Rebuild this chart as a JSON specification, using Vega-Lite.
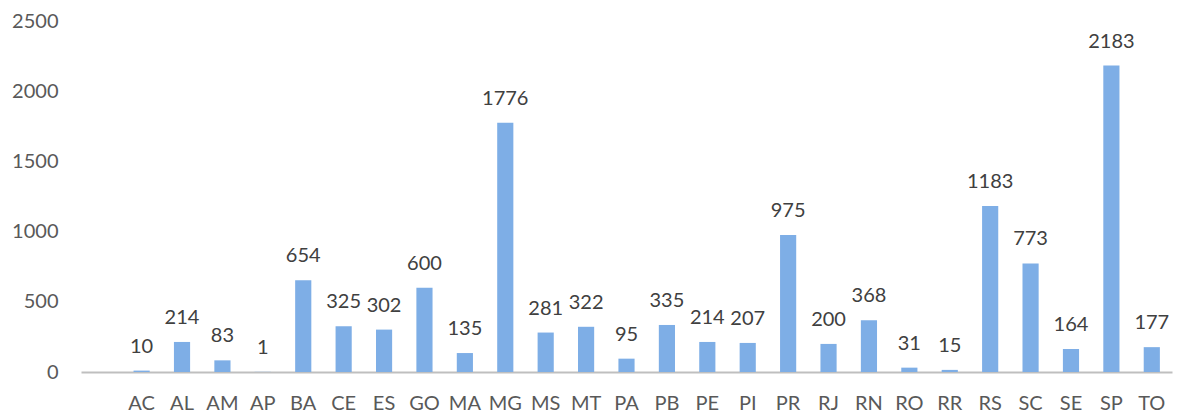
{
  "$schema": "https://vega.github.io/schema/vega-lite/v6.json",
  "autosize": {"type": "none"},
  "padding": {"left": 81, "top": 21, "right": 9, "bottom": 42},
  "width": 1091,
  "height": 351,
  "background": "white",
  "config": {"view": {"stroke": null}, "font": "Lato"},
  "data": {
    "values": [
      {"uf": "AC", "n": 10}, {"uf": "AL", "n": 214}, {"uf": "AM", "n": 83},
      {"uf": "AP", "n": 1}, {"uf": "BA", "n": 654}, {"uf": "CE", "n": 325},
      {"uf": "ES", "n": 302}, {"uf": "GO", "n": 600}, {"uf": "MA", "n": 135},
      {"uf": "MG", "n": 1776}, {"uf": "MS", "n": 281}, {"uf": "MT", "n": 322},
      {"uf": "PA", "n": 95}, {"uf": "PB", "n": 335}, {"uf": "PE", "n": 214},
      {"uf": "PI", "n": 207}, {"uf": "PR", "n": 975}, {"uf": "RJ", "n": 200},
      {"uf": "RN", "n": 368}, {"uf": "RO", "n": 31}, {"uf": "RR", "n": 15},
      {"uf": "RS", "n": 1183}, {"uf": "SC", "n": 773}, {"uf": "SE", "n": 164},
      {"uf": "SP", "n": 2183}, {"uf": "TO", "n": 177}
    ]
  },
  "encoding": {
    "x": {
      "field": "uf", "type": "nominal", "sort": null,
      "scale": {
        "domain": [" ", "AC", "AL", "AM", "AP", "BA", "CE", "ES", "GO", "MA", "MG", "MS", "MT", "PA", "PB", "PE", "PI", "PR", "RJ", "RN", "RO", "RR", "RS", "SC", "SE", "SP", "TO"],
        "paddingInner": 0.6, "paddingOuter": 0.3
      },
      "axis": {
        "title": null, "labelAngle": 0, "ticks": false,
        "domainColor": "#bfbfbf", "domainWidth": 2,
        "labelFontSize": 20, "labelColor": "#595959", "labelPadding": 21,
        "labelFont": "Lato"
      }
    },
    "y": {
      "field": "n", "type": "quantitative",
      "scale": {"domain": [0, 2500], "nice": false},
      "axis": {
        "title": null, "values": [0, 500, 1000, 1500, 2000, 2500], "format": "d",
        "domain": false, "ticks": false, "grid": false,
        "labelFontSize": 20, "labelColor": "#595959", "labelPadding": 23,
        "labelFont": "Lato"
      }
    }
  },
  "layer": [
    {"mark": {"type": "bar", "color": "#7eaee6"}},
    {
      "mark": {"type": "text", "baseline": "alphabetic", "dy": -18, "fontSize": 20, "color": "#404040", "font": "Lato"},
      "encoding": {"text": {"field": "n", "type": "quantitative", "format": "d"}}
    }
  ]
}
